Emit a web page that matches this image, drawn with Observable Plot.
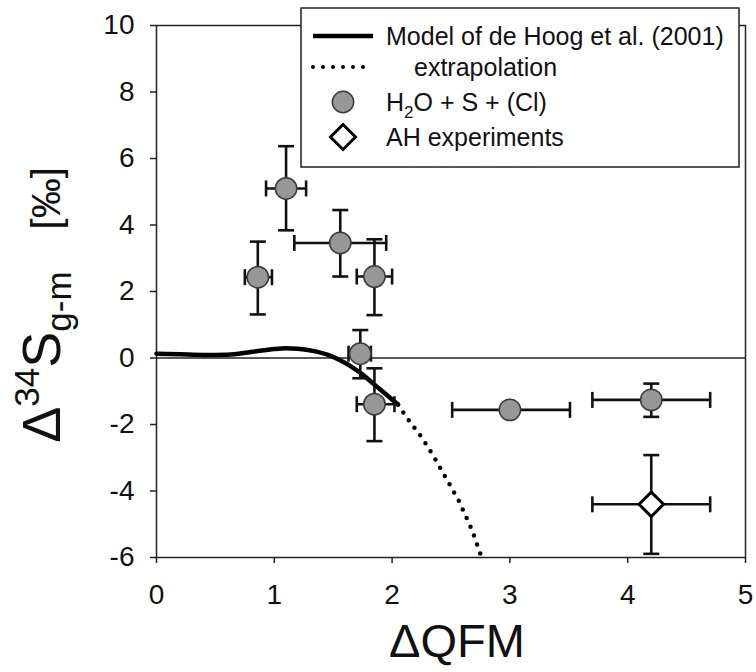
<!DOCTYPE html>
<html>
<head>
<meta charset="utf-8">
<script src="https://cdn.jsdelivr.net/npm/d3@7"></script>
<script src="https://cdn.jsdelivr.net/npm/@observablehq/plot@0.6"></script>
<style>
  html, body { margin: 0; padding: 0; background: #fff; }
  #wrap { position: relative; width: 756px; height: 672px; font-family: "Liberation Sans", Arial, sans-serif; }
  #legend { position: absolute; left: 300px; top: 7px; }
</style>
</head>
<body>
<div id="wrap"></div>
<script>
// ---- data ----
const xTicks = [0, 1, 2, 3, 4, 5];
const yTicks = [-6, -4, -2, 0, 2, 4, 6, 8, 10];

// Model of de Hoog et al. (2001)
const modelX = [0, 0.2, 0.4, 0.6, 0.8, 1.0, 1.1, 1.2, 1.35, 1.45, 1.55, 1.65, 1.75, 1.85, 1.95, 2.05];
const modelY = [0.13, 0.11, 0.09, 0.1, 0.18, 0.27, 0.29, 0.28, 0.2, 0.1, -0.05, -0.25, -0.5, -0.8, -1.1, -1.4];
// extrapolation
const extX = [2.05, 2.13, 2.25, 2.35, 2.48, 2.57, 2.68, 2.76];
const extY = [-1.4, -1.82, -2.38, -2.94, -3.75, -4.32, -5.19, -6.0];

// H2O + S + (Cl)
const gX   = [1.1, 0.86, 1.56, 1.85, 1.73, 1.85, 3.0, 4.2];
const gY   = [5.1, 2.43, 3.46, 2.45, 0.13, -1.39, -1.56, -1.26];
const gXlo = [0.93, 0.75, 1.17, 1.70, 1.63, 1.70, 2.51, 3.70];
const gXhi = [1.27, 0.98, 1.95, 2.00, 1.82, 2.02, 3.51, 4.70];
const gYlo = [3.84, 1.31, 2.45, 1.29, -0.61, -2.5, null, -1.77];
const gYhi = [6.37, 3.5, 4.45, 3.57, 0.84, -0.31, null, -0.77];

// AH experiments
const ahX = [4.2], ahY = [-4.40];
const ahXlo = [3.70], ahXhi = [4.70];
const ahYlo = [-5.89], ahYhi = [-2.92];

// ---- tables ----
const model = modelX.map((x, i) => ({x, y: modelY[i]}));
const ext = extX.map((x, i) => ({x, y: extY[i]}));
const pts = gX.map((x, i) => ({x, y: gY[i], xlo: gXlo[i], xhi: gXhi[i], ylo: gYlo[i], yhi: gYhi[i]}))
  .concat(ahX.map((x, i) => ({x, y: ahY[i], xlo: ahXlo[i], xhi: ahXhi[i], ylo: ahYlo[i], yhi: ahYhi[i], ah: true})));
const gPts = pts.filter(d => !d.ah);
const ahPts = pts.filter(d => d.ah);
const vPts = pts.filter(d => d.ylo != null);

const capH = {draw(ctx) { ctx.moveTo(-8, 0); ctx.lineTo(8, 0); }};
const capV = {draw(ctx) { ctx.moveTo(0, -8); ctx.lineTo(0, 8); }};
const barColor = "#111";
const FONT = "'Liberation Sans', Arial, sans-serif";

const plot = Plot.plot({
  width: 756, height: 672,
  marginLeft: 156, marginRight: 11, marginTop: 25, marginBottom: 115,
  style: {fontFamily: FONT, fontSize: "28px", background: "transparent", color: "#111"},
  x: {domain: [0, 5]},
  y: {domain: [-6, 10]},
  marks: [
    Plot.frame({stroke: "#222", strokeWidth: 1.5}),
    Plot.ruleY([0], {stroke: "#222", strokeWidth: 1.5}),
    Plot.axisX({ticks: xTicks, tickFormat: d => String(d), tickSize: 6, tickPadding: 21, fontSize: 28, label: null, stroke: "#222", strokeWidth: 1.5}),
    Plot.axisY({ticks: yTicks, tickFormat: d => String(d), tickSize: 6, tickPadding: 16, fontSize: 28, label: null, stroke: "#222", strokeWidth: 1.5}),
    Plot.line(ext, {x: "x", y: "y", stroke: "#000", strokeWidth: 4.5, strokeDasharray: "0,9.5", strokeLinecap: "round"}),
    Plot.line(model, {x: "x", y: "y", stroke: "#000", strokeWidth: 4.5, curve: "monotone-x"}),
    // error bars
    Plot.ruleY(pts, {y: "y", x1: "xlo", x2: "xhi", stroke: barColor, strokeWidth: 2.6}),
    Plot.ruleX(vPts, {x: "x", y1: "ylo", y2: "yhi", stroke: barColor, strokeWidth: 2.6}),
    Plot.dot(pts, {x: "xlo", y: "y", symbol: capV, stroke: barColor, strokeWidth: 2.6, fill: "none"}),
    Plot.dot(pts, {x: "xhi", y: "y", symbol: capV, stroke: barColor, strokeWidth: 2.6, fill: "none"}),
    Plot.dot(vPts, {x: "x", y: "ylo", symbol: capH, stroke: barColor, strokeWidth: 2.6, fill: "none"}),
    Plot.dot(vPts, {x: "x", y: "yhi", symbol: capH, stroke: barColor, strokeWidth: 2.6, fill: "none"}),
    // points
    Plot.dot(gPts, {x: "x", y: "y", r: 10.7, fill: "#979797", stroke: "#3a3a3a", strokeWidth: 1.5}),
    Plot.dot(ahPts, {x: "x", y: "y", r: 11, symbol: "diamond2", fill: "#fff", stroke: "#000", strokeWidth: 3}),
    // x axis title
    Plot.text(["ΔQFM"], {frameAnchor: "bottom", dx: 6, dy: 99, fontSize: 47, fill: "#111"})
  ]
});

// y axis title with super/subscripts
const yl = d3.select(plot).append("text")
  .attr("transform", "translate(60,305) rotate(-90)")
  .attr("text-anchor", "middle")
  .attr("font-family", FONT)
  .attr("fill", "#111");
yl.append("tspan").attr("font-size", 54).text("Δ");
yl.append("tspan").attr("font-size", 35).attr("dy", -21).text("34");
yl.append("tspan").attr("font-size", 54).attr("dy", 21).text("S");
yl.append("tspan").attr("font-size", 35).attr("dy", 11).text("g-m");
yl.append("tspan").attr("font-size", 40).attr("dy", -11).attr("dx", 42).text("[‰]");

const wrap = document.getElementById("wrap");
wrap.appendChild(plot);

// legend (inside plot area, overlays the frame)
const W = 439, H = 160;
const lg = d3.select(wrap).append("svg").attr("id", "legend")
  .attr("width", W + 2).attr("height", H + 2)
  .style("font-family", FONT);
lg.append("rect").attr("x", 1).attr("y", 1).attr("width", W - 1).attr("height", H - 1)
  .attr("fill", "#fff").attr("stroke", "#222").attr("stroke-width", 1.5);
const rows = [29, 60, 95, 130];
lg.append("line").attr("x1", 13).attr("x2", 73).attr("y1", rows[0]).attr("y2", rows[0])
  .attr("stroke", "#000").attr("stroke-width", 4.5);
lg.append("line").attr("x1", 13).attr("x2", 73).attr("y1", rows[1]).attr("y2", rows[1])
  .attr("stroke", "#000").attr("stroke-width", 4).attr("stroke-dasharray", "0,10").attr("stroke-linecap", "round");
lg.append("circle").attr("cx", 43).attr("cy", rows[2]).attr("r", 10.7)
  .attr("fill", "#979797").attr("stroke", "#3a3a3a").attr("stroke-width", 1.5);
lg.append("path").attr("transform", `translate(43,${rows[3]})`).attr("d", "M0,-12.5L12.5,0L0,12.5L-12.5,0Z")
  .attr("fill", "#fff").attr("stroke", "#000").attr("stroke-width", 3);
const t = (x, y) => lg.append("text").attr("x", x).attr("y", y).attr("dy", "0.36em")
  .attr("font-size", 25).attr("fill", "#111");
t(86, rows[0]).text("Model of de Hoog et al. (2001)");
t(114, rows[1]).text("extrapolation");
const h = t(86, rows[2]);
h.append("tspan").text("H");
h.append("tspan").attr("font-size", 17).attr("dy", 7).text("2");
h.append("tspan").attr("dy", -7).text("O + S + (Cl)");
t(86, rows[3]).text("AH experiments");
</script>
</body>
</html>
